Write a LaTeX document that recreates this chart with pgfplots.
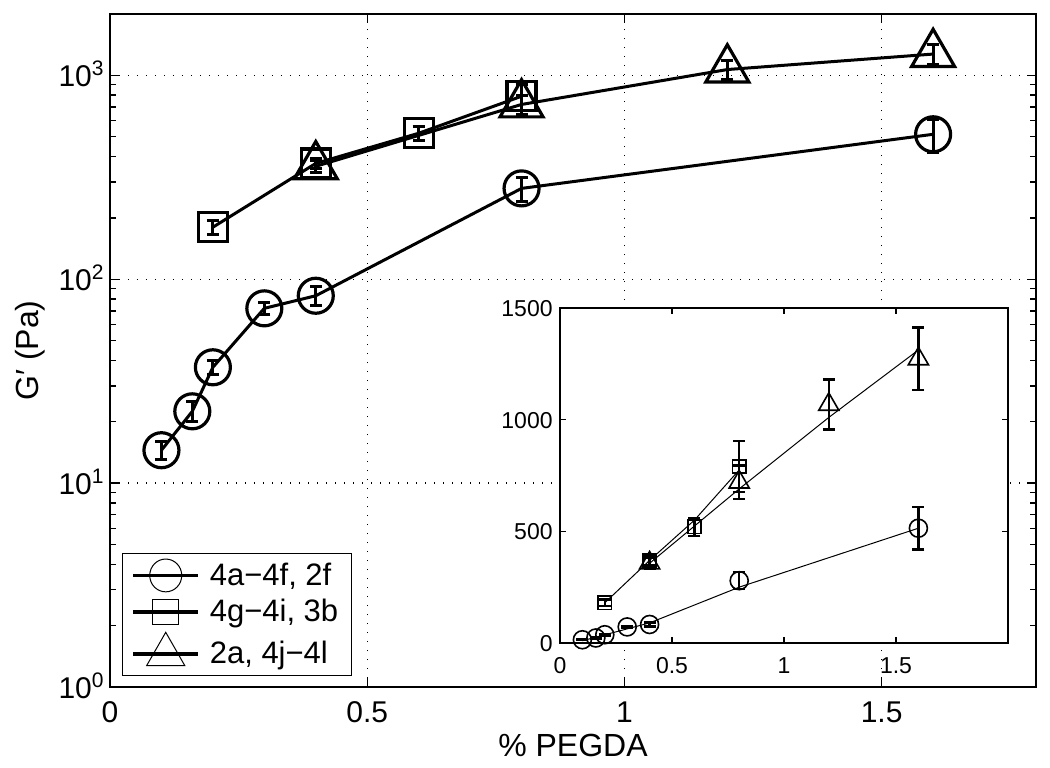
\documentclass[border=0pt]{standalone}
\usepackage{fontspec}
\setmainfont{Liberation Sans}
\usepackage{pgfplots}
\usepackage{pgfplotstable}
\pgfplotsset{compat=1.18}

% 4a-4f, 2f (circles)
\pgfplotstableread{
x y e
0.10 14.5 1.5
0.16 22.5 2.5
0.20 37 3
0.30 72 5
0.40 83 9
0.80 279 38
1.60 514 95
}\circdata
% 4g-4i, 3b (squares)
\pgfplotstableread{
x y e
0.2 180 14
0.4 370 22
0.6 520 40
0.8 790 115
}\squaredata
% 2a, 4j-4l (triangles)
\pgfplotstableread{
x y e
0.4 358 25
0.8 720 75
1.2 1068 112
1.6 1272 140
}\tridata
% fitted lines of the inset
\pgfplotstableread{
x y
0.1 10
0.4 90
0.8 250
1.6 514
}\circfit
\pgfplotstableread{
x y
0.2 180
0.4 370
0.6 550
0.8 775
}\squarefit
\pgfplotstableread{
x y
0.4 357
0.8 690
1.2 1010
1.6 1312
}\trifit

\begin{document}
\begin{tikzpicture}
\useasboundingbox (-55pt,-40pt) rectangle (470pt,343.5pt);
\begin{axis}[
  name=main, at={(0,0)}, anchor=south west,
  scale only axis, width=463pt, height=336.5pt,
  xmin=0, xmax=1.8, ymode=log, ymin=1, ymax=2000,
  xtick={0,0.5,1,1.5}, xticklabels={0,0.5,1,1.5},
  ytick={1,10,100,1000},
  yticklabels={10\textsuperscript{0},10\textsuperscript{1},10\textsuperscript{2},10\textsuperscript{3}},
  tick align=inside, major tick length=4.5pt, minor tick length=2.8pt,
  every tick/.style={black, line width=0.7pt},
  axis line style={line width=0.8pt},
  grid=major, grid style={black, line width=0.7pt, dash pattern=on 0.7pt off 3.8pt},
  ticklabel style={font=\fontsize{15}{17}\selectfont},
  xticklabel style={anchor=base, inner sep=0pt, yshift=-17.75pt},
  yticklabel style={anchor=base east, inner sep=0pt, xshift=-2.5pt, yshift=-5.5pt},
  label style={font=\fontsize{16}{18}\selectfont},
  xlabel={\% PEGDA},
  xlabel style={at={(axis description cs:0.5,0)}, anchor=center, yshift=-29pt},
  ylabel={G\char"2032\ (Pa)},
  ylabel style={at={(axis description cs:-0.0864,0.5)}, anchor=center},
  legend style={at={(0.013,0.016)}, anchor=south west, draw=black, line width=0.6pt,
    font=\fontsize{15.5}{18}\selectfont, row sep=1.5pt, inner xsep=4.5pt, inner ysep=2.5pt,
    cells={anchor=west},
    /tikz/every odd column/.append style={column sep=3pt}},
]
\addlegendimage{legend image code/.code={
  \draw[black, line width=1.6pt] (0pt,0pt) -- (32.5pt,0pt);
  \draw[black, line width=0.5pt] (16.25pt,0pt) ellipse [x radius=8pt, y radius=8.2pt];}}
\addlegendentry{4a\char"2212 4f, 2f}
\addlegendimage{legend image code/.code={
  \draw[black, line width=1.6pt] (0pt,0pt) -- (32.5pt,0pt);
  \draw[black, line width=0.5pt] (9.75pt,-6.3pt) rectangle (22.75pt,6.3pt);}}
\addlegendentry{4g\char"2212 4i, 3b}
\addlegendimage{legend image code/.code={
  \draw[black, line width=1.6pt] (0pt,0pt) -- (32.5pt,0pt);
  \draw[black, line width=0.5pt] (16.25pt,10.8pt) -- (6.75pt,-5.8pt) -- (25.75pt,-5.8pt) -- cycle;}}
\addlegendentry{2a, 4j\char"2212 4l}

\addplot[black, line width=1.5pt, mark=o, mark size=8.75pt, mark options={line width=1.6pt, solid},
  forget plot,
  error bars/.cd, y dir=both, y explicit,
  error bar style={line width=1.5pt}, error mark options={rotate=90, line width=1.5pt, mark size=3pt}]
  table[x=x, y=y, y error=e] {\circdata};
\addplot[black, line width=1.5pt, mark=square, mark size=7.25pt, mark options={line width=1.6pt, solid},
  forget plot,
  error bars/.cd, y dir=both, y explicit,
  error bar style={line width=1.5pt}, error mark options={rotate=90, line width=1.5pt, mark size=3pt}]
  table[x=x, y=y, y error=e] {\squaredata};
\addplot[black, line width=1.5pt, mark=triangle, mark size=12.4pt, mark options={line width=1.6pt, solid},
  forget plot,
  error bars/.cd, y dir=both, y explicit,
  error bar style={line width=1.5pt}, error mark options={rotate=90, line width=1.5pt, mark size=3pt}]
  table[x=x, y=y, y error=e] {\tridata};
\end{axis}

\begin{axis}[
  at={(225pt,22pt)}, anchor=south west,
  scale only axis, width=224pt, height=167.5pt,
  xmin=0, xmax=2, ymin=0, ymax=1500,
  xtick={0,0.5,1,1.5}, xticklabels={0,0.5,1,1.5},
  ytick={0,500,1000,1500}, yticklabels={0,500,1000,1500},
  axis background/.style={fill=white},
  tick align=inside, major tick length=3pt,
  every tick/.style={black, line width=0.6pt},
  axis line style={line width=0.7pt},
  ticklabel style={font=\fontsize{11.5}{13}\selectfont},
  xticklabel style={anchor=base, inner sep=0pt, yshift=-15pt},
  yticklabel style={anchor=base east, inner sep=0pt, xshift=-3.5pt, yshift=-4.2pt},
]
\addplot[black, line width=0.5pt, no marks] table[x=x, y=y] {\circfit};
\addplot[black, line width=0.5pt, no marks] table[x=x, y=y] {\squarefit};
\addplot[black, line width=0.5pt, no marks] table[x=x, y=y] {\trifit};
\addplot[black, only marks, mark=o, mark size=4.5pt, mark options={line width=0.8pt},
  error bars/.cd, y dir=both, y explicit,
  error bar style={line width=1.2pt}, error mark options={rotate=90, line width=1.2pt, mark size=3pt}]
  table[x=x, y=y, y error=e] {\circdata};
\addplot[black, only marks, mark=square, mark size=3.3pt, mark options={line width=0.8pt},
  error bars/.cd, y dir=both, y explicit,
  error bar style={line width=1.2pt}, error mark options={rotate=90, line width=1.2pt, mark size=3pt}]
  table[x=x, y=y, y error=e] {\squaredata};
\addplot[black, only marks, mark=triangle, mark size=5.8pt, mark options={line width=0.8pt},
  error bars/.cd, y dir=both, y explicit,
  error bar style={line width=1.2pt}, error mark options={rotate=90, line width=1.2pt, mark size=3pt}]
  table[x=x, y=y, y error=e] {\tridata};
\end{axis}
\end{tikzpicture}
\end{document}
